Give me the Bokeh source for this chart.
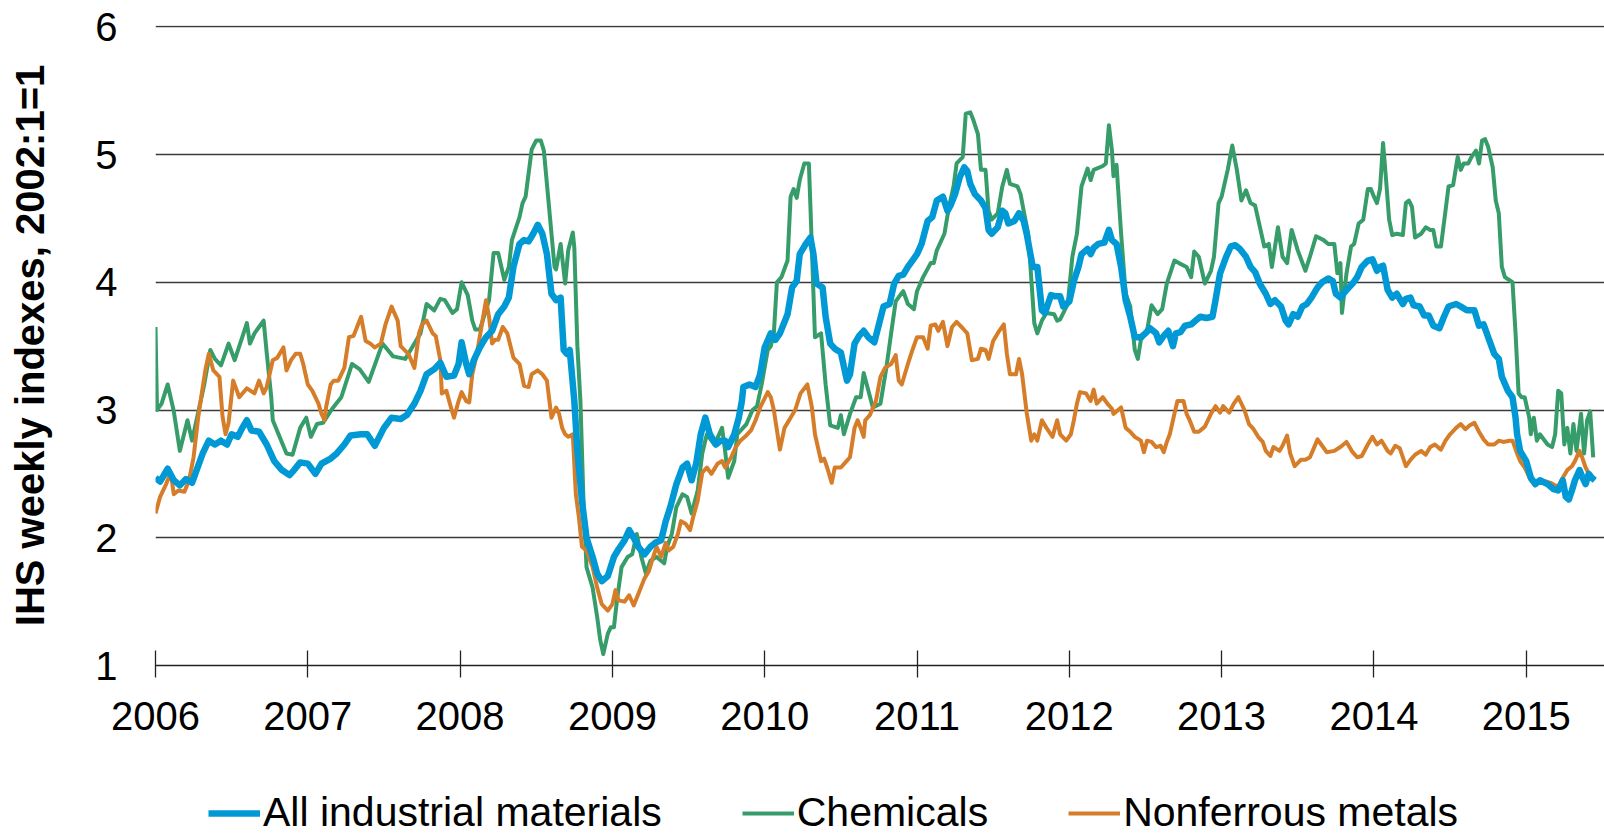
from bokeh.plotting import figure
from bokeh.layouts import column
from bokeh.models import Legend, LegendItem, FixedTicker, Range1d
from bokeh.embed import file_html
from bokeh.resources import INLINE

FONT = "Liberation Sans"

year_ticks = [2006, 2007, 2008, 2009, 2010, 2011, 2012, 2013, 2014, 2015]
year_labels = ["2006", "2007", "2008", "2009", "2010", "2011", "2012", "2013", "2014", "2015"]
y_ticks = [1, 2, 3, 4, 5, 6]
series_names = ["All industrial materials", "Chemicals", "Nonferrous metals"]
series_colors = ["#0099D5", "#369C69", "#D67D29"]

chem_x = [2006.00, 2006.01, 2006.04, 2006.08, 2006.12, 2006.16, 2006.21, 2006.24, 2006.28, 2006.32, 2006.36, 2006.39, 2006.43, 2006.48, 2006.52, 2006.60, 2006.62, 2006.65, 2006.71, 2006.73, 2006.76, 2006.77, 2006.86, 2006.90, 2006.95, 2006.99, 2007.02, 2007.06, 2007.10, 2007.16, 2007.22, 2007.29, 2007.34, 2007.40, 2007.49, 2007.56, 2007.64, 2007.70, 2007.74, 2007.78, 2007.83, 2007.87, 2007.90, 2007.95, 2007.98, 2008.01, 2008.05, 2008.08, 2008.10, 2008.13, 2008.19, 2008.22, 2008.25, 2008.29, 2008.32, 2008.34, 2008.39, 2008.41, 2008.43, 2008.47, 2008.50, 2008.53, 2008.55, 2008.58, 2008.62, 2008.63, 2008.66, 2008.69, 2008.71, 2008.74, 2008.75, 2008.77, 2008.79, 2008.81, 2008.83, 2008.87, 2008.90, 2008.92, 2008.94, 2008.97, 2008.99, 2009.01, 2009.03, 2009.06, 2009.10, 2009.13, 2009.16, 2009.19, 2009.22, 2009.25, 2009.29, 2009.34, 2009.36, 2009.39, 2009.42, 2009.46, 2009.49, 2009.52, 2009.56, 2009.59, 2009.62, 2009.67, 2009.72, 2009.74, 2009.76, 2009.80, 2009.82, 2009.88, 2009.92, 2009.95, 2009.98, 2010.02, 2010.04, 2010.06, 2010.08, 2010.11, 2010.15, 2010.17, 2010.19, 2010.21, 2010.23, 2010.26, 2010.29, 2010.30, 2010.33, 2010.37, 2010.40, 2010.43, 2010.48, 2010.50, 2010.52, 2010.56, 2010.60, 2010.63, 2010.65, 2010.67, 2010.71, 2010.76, 2010.80, 2010.83, 2010.86, 2010.89, 2010.91, 2010.94, 2010.98, 2011.00, 2011.04, 2011.09, 2011.11, 2011.13, 2011.18, 2011.21, 2011.24, 2011.26, 2011.30, 2011.32, 2011.35, 2011.37, 2011.40, 2011.42, 2011.45, 2011.47, 2011.49, 2011.53, 2011.56, 2011.59, 2011.61, 2011.66, 2011.68, 2011.70, 2011.73, 2011.76, 2011.77, 2011.79, 2011.82, 2011.85, 2011.90, 2011.92, 2011.94, 2011.99, 2012.02, 2012.05, 2012.08, 2012.12, 2012.14, 2012.16, 2012.22, 2012.24, 2012.26, 2012.28, 2012.29, 2012.31, 2012.34, 2012.37, 2012.40, 2012.43, 2012.45, 2012.47, 2012.51, 2012.54, 2012.58, 2012.61, 2012.64, 2012.69, 2012.72, 2012.77, 2012.80, 2012.82, 2012.85, 2012.89, 2012.93, 2012.95, 2012.98, 2013.00, 2013.04, 2013.07, 2013.10, 2013.13, 2013.16, 2013.19, 2013.22, 2013.28, 2013.31, 2013.33, 2013.37, 2013.40, 2013.43, 2013.46, 2013.50, 2013.55, 2013.58, 2013.62, 2013.67, 2013.70, 2013.74, 2013.76, 2013.78, 2013.79, 2013.82, 2013.85, 2013.87, 2013.90, 2013.93, 2013.96, 2013.98, 2014.00, 2014.02, 2014.04, 2014.06, 2014.08, 2014.10, 2014.12, 2014.15, 2014.19, 2014.21, 2014.23, 2014.25, 2014.27, 2014.31, 2014.34, 2014.37, 2014.39, 2014.41, 2014.44, 2014.47, 2014.49, 2014.52, 2014.55, 2014.57, 2014.59, 2014.62, 2014.64, 2014.67, 2014.69, 2014.71, 2014.73, 2014.75, 2014.78, 2014.80, 2014.82, 2014.84, 2014.86, 2014.91, 2014.93, 2014.95, 2014.97, 2014.99, 2015.02, 2015.03, 2015.05, 2015.07, 2015.09, 2015.14, 2015.17, 2015.19, 2015.21, 2015.23, 2015.25, 2015.27, 2015.29, 2015.31, 2015.33, 2015.36, 2015.38, 2015.40, 2015.42, 2015.44]
chem_y = [3.65, 3.00, 3.05, 3.20, 2.99, 2.68, 2.92, 2.76, 2.98, 3.20, 3.47, 3.40, 3.35, 3.52, 3.39, 3.68, 3.52, 3.60, 3.70, 3.45, 3.10, 2.92, 2.66, 2.65, 2.86, 2.94, 2.79, 2.89, 2.90, 3.01, 3.10, 3.36, 3.32, 3.22, 3.52, 3.42, 3.40, 3.52, 3.60, 3.83, 3.78, 3.87, 3.86, 3.76, 3.79, 4.00, 3.90, 3.70, 3.63, 3.63, 3.86, 4.23, 4.23, 4.02, 4.12, 4.33, 4.51, 4.62, 4.67, 5.04, 5.11, 5.11, 5.03, 4.64, 4.12, 4.10, 4.30, 3.99, 4.25, 4.39, 4.27, 3.50, 3.07, 2.29, 1.77, 1.61, 1.38, 1.20, 1.09, 1.25, 1.30, 1.30, 1.51, 1.77, 1.85, 1.87, 2.03, 1.85, 1.72, 1.82, 1.85, 1.80, 1.93, 2.03, 2.24, 2.34, 2.32, 2.19, 2.37, 2.66, 2.81, 2.73, 2.86, 2.68, 2.47, 2.60, 2.81, 2.89, 3.00, 3.03, 3.20, 3.47, 3.50, 3.60, 4.00, 4.04, 4.17, 4.67, 4.73, 4.66, 4.80, 4.93, 4.93, 4.60, 3.57, 3.60, 3.20, 2.88, 2.86, 2.96, 2.81, 2.97, 3.10, 3.10, 3.29, 3.20, 3.02, 3.05, 3.34, 3.60, 3.85, 3.90, 3.93, 3.83, 3.79, 3.93, 4.04, 4.15, 4.15, 4.25, 4.38, 4.59, 4.75, 4.93, 4.98, 5.32, 5.33, 5.27, 5.16, 4.88, 4.88, 4.56, 4.49, 4.54, 4.75, 4.88, 4.77, 4.75, 4.69, 4.56, 4.38, 3.86, 3.68, 3.60, 3.70, 3.76, 3.75, 3.70, 3.71, 3.83, 4.20, 4.38, 4.75, 4.89, 4.80, 4.88, 4.91, 4.93, 5.23, 5.03, 4.83, 4.92, 4.38, 3.91, 3.81, 3.47, 3.40, 3.55, 3.62, 3.82, 3.75, 3.79, 3.99, 4.17, 4.15, 4.12, 4.04, 4.24, 4.20, 3.99, 4.09, 4.20, 4.62, 4.67, 4.88, 5.07, 4.88, 4.64, 4.72, 4.62, 4.60, 4.28, 4.30, 4.12, 4.43, 4.20, 4.15, 4.41, 4.25, 4.09, 4.20, 4.36, 4.33, 4.30, 4.30, 4.07, 4.15, 3.76, 4.07, 4.28, 4.30, 4.46, 4.49, 4.73, 4.73, 4.67, 4.62, 4.73, 5.09, 4.80, 4.49, 4.37, 4.38, 4.37, 4.62, 4.64, 4.59, 4.35, 4.38, 4.43, 4.41, 4.41, 4.28, 4.28, 4.56, 4.75, 4.76, 4.98, 4.88, 4.93, 4.93, 4.98, 5.03, 4.93, 5.11, 5.12, 5.06, 4.90, 4.64, 4.54, 4.12, 4.04, 4.00, 3.60, 3.13, 3.10, 3.10, 2.94, 2.81, 2.94, 2.76, 2.81, 2.73, 2.71, 2.81, 3.15, 3.13, 2.73, 2.86, 2.66, 2.89, 2.68, 2.97, 2.66, 2.92, 2.99, 2.63]

all_x = [2006.00, 2006.03, 2006.08, 2006.12, 2006.16, 2006.20, 2006.24, 2006.27, 2006.31, 2006.35, 2006.39, 2006.43, 2006.47, 2006.50, 2006.54, 2006.57, 2006.60, 2006.63, 2006.68, 2006.73, 2006.78, 2006.83, 2006.88, 2006.91, 2006.95, 2007.00, 2007.05, 2007.09, 2007.15, 2007.19, 2007.24, 2007.28, 2007.35, 2007.39, 2007.44, 2007.50, 2007.55, 2007.61, 2007.65, 2007.70, 2007.74, 2007.78, 2007.83, 2007.87, 2007.91, 2007.96, 2007.99, 2008.01, 2008.04, 2008.06, 2008.09, 2008.13, 2008.17, 2008.21, 2008.25, 2008.29, 2008.32, 2008.35, 2008.39, 2008.42, 2008.45, 2008.48, 2008.51, 2008.54, 2008.57, 2008.60, 2008.63, 2008.66, 2008.68, 2008.70, 2008.72, 2008.75, 2008.77, 2008.80, 2008.83, 2008.87, 2008.90, 2008.93, 2008.97, 2009.01, 2009.04, 2009.08, 2009.11, 2009.14, 2009.17, 2009.21, 2009.25, 2009.28, 2009.32, 2009.35, 2009.38, 2009.42, 2009.46, 2009.49, 2009.52, 2009.55, 2009.58, 2009.61, 2009.64, 2009.68, 2009.71, 2009.74, 2009.76, 2009.80, 2009.83, 2009.85, 2009.86, 2009.90, 2009.94, 2009.97, 2010.00, 2010.04, 2010.07, 2010.10, 2010.15, 2010.18, 2010.21, 2010.23, 2010.27, 2010.30, 2010.32, 2010.34, 2010.38, 2010.40, 2010.43, 2010.46, 2010.50, 2010.52, 2010.54, 2010.56, 2010.59, 2010.62, 2010.65, 2010.68, 2010.72, 2010.75, 2010.78, 2010.82, 2010.85, 2010.88, 2010.91, 2010.94, 2010.97, 2011.00, 2011.03, 2011.07, 2011.10, 2011.13, 2011.17, 2011.20, 2011.22, 2011.25, 2011.28, 2011.31, 2011.33, 2011.35, 2011.38, 2011.42, 2011.45, 2011.47, 2011.49, 2011.53, 2011.56, 2011.58, 2011.60, 2011.64, 2011.67, 2011.70, 2011.72, 2011.76, 2011.79, 2011.82, 2011.84, 2011.88, 2011.91, 2011.94, 2011.96, 2012.00, 2012.03, 2012.06, 2012.08, 2012.12, 2012.14, 2012.16, 2012.19, 2012.23, 2012.26, 2012.28, 2012.31, 2012.34, 2012.37, 2012.40, 2012.43, 2012.47, 2012.50, 2012.53, 2012.57, 2012.59, 2012.62, 2012.65, 2012.68, 2012.70, 2012.73, 2012.76, 2012.80, 2012.83, 2012.86, 2012.90, 2012.94, 2012.96, 2012.99, 2013.03, 2013.06, 2013.09, 2013.12, 2013.16, 2013.19, 2013.22, 2013.25, 2013.29, 2013.32, 2013.35, 2013.39, 2013.42, 2013.44, 2013.47, 2013.50, 2013.53, 2013.56, 2013.59, 2013.63, 2013.66, 2013.70, 2013.73, 2013.75, 2013.78, 2013.82, 2013.86, 2013.89, 2013.92, 2013.96, 2013.99, 2014.02, 2014.04, 2014.06, 2014.09, 2014.12, 2014.15, 2014.19, 2014.21, 2014.24, 2014.26, 2014.30, 2014.33, 2014.36, 2014.39, 2014.43, 2014.46, 2014.49, 2014.54, 2014.57, 2014.61, 2014.66, 2014.69, 2014.72, 2014.75, 2014.79, 2014.82, 2014.84, 2014.88, 2014.91, 2014.93, 2014.94, 2014.96, 2015.00, 2015.03, 2015.06, 2015.09, 2015.14, 2015.18, 2015.21, 2015.24, 2015.26, 2015.28, 2015.30, 2015.32, 2015.35, 2015.37, 2015.39, 2015.41, 2015.43, 2015.45]
all_y = [2.47, 2.44, 2.54, 2.45, 2.41, 2.46, 2.43, 2.53, 2.66, 2.76, 2.73, 2.76, 2.73, 2.81, 2.79, 2.86, 2.92, 2.84, 2.83, 2.73, 2.60, 2.53, 2.49, 2.53, 2.59, 2.58, 2.50, 2.58, 2.62, 2.66, 2.73, 2.80, 2.81, 2.81, 2.72, 2.86, 2.94, 2.93, 2.96, 3.05, 3.15, 3.28, 3.32, 3.37, 3.26, 3.27, 3.36, 3.53, 3.36, 3.28, 3.39, 3.49, 3.57, 3.62, 3.75, 3.81, 3.88, 4.12, 4.30, 4.33, 4.32, 4.38, 4.45, 4.38, 4.22, 3.91, 3.86, 3.88, 3.47, 3.44, 3.47, 3.07, 2.68, 2.29, 2.00, 1.85, 1.72, 1.66, 1.70, 1.85, 1.91, 1.98, 2.06, 2.00, 1.93, 1.87, 1.93, 1.96, 1.98, 2.13, 2.24, 2.42, 2.55, 2.58, 2.45, 2.58, 2.81, 2.94, 2.81, 2.73, 2.76, 2.76, 2.71, 2.81, 2.94, 3.07, 3.18, 3.20, 3.18, 3.28, 3.49, 3.60, 3.55, 3.60, 3.75, 3.96, 4.01, 4.22, 4.30, 4.35, 4.22, 3.99, 3.96, 3.73, 3.52, 3.48, 3.45, 3.34, 3.23, 3.28, 3.52, 3.58, 3.62, 3.57, 3.53, 3.67, 3.81, 3.83, 3.99, 4.05, 4.06, 4.12, 4.17, 4.22, 4.30, 4.48, 4.51, 4.64, 4.67, 4.56, 4.60, 4.69, 4.82, 4.90, 4.87, 4.77, 4.69, 4.64, 4.58, 4.41, 4.38, 4.43, 4.56, 4.54, 4.46, 4.48, 4.54, 4.48, 4.38, 4.12, 4.12, 3.78, 3.76, 3.90, 3.89, 3.89, 3.81, 3.85, 4.01, 4.12, 4.22, 4.26, 4.22, 4.27, 4.30, 4.31, 4.41, 4.33, 4.30, 4.12, 3.86, 3.73, 3.57, 3.57, 3.60, 3.64, 3.60, 3.53, 3.58, 3.62, 3.50, 3.60, 3.61, 3.66, 3.67, 3.70, 3.73, 3.72, 3.73, 3.86, 4.07, 4.20, 4.28, 4.29, 4.26, 4.20, 4.12, 4.08, 3.99, 3.91, 3.83, 3.86, 3.81, 3.70, 3.67, 3.75, 3.73, 3.81, 3.83, 3.88, 3.96, 4.00, 4.03, 4.01, 3.91, 3.88, 3.94, 3.99, 4.04, 4.12, 4.17, 4.18, 4.09, 4.12, 4.13, 3.94, 3.88, 3.91, 3.83, 3.87, 3.88, 3.82, 3.81, 3.74, 3.74, 3.66, 3.64, 3.73, 3.81, 3.83, 3.81, 3.78, 3.78, 3.66, 3.67, 3.57, 3.44, 3.40, 3.26, 3.15, 3.10, 2.94, 2.81, 2.68, 2.60, 2.47, 2.42, 2.45, 2.42, 2.38, 2.37, 2.45, 2.32, 2.30, 2.37, 2.45, 2.53, 2.47, 2.42, 2.50, 2.47, 2.45]

metal_x = [2006.00, 2006.03, 2006.07, 2006.10, 2006.12, 2006.15, 2006.19, 2006.22, 2006.25, 2006.28, 2006.31, 2006.33, 2006.35, 2006.38, 2006.42, 2006.44, 2006.46, 2006.48, 2006.51, 2006.55, 2006.60, 2006.65, 2006.68, 2006.71, 2006.73, 2006.77, 2006.80, 2006.84, 2006.86, 2006.89, 2006.92, 2006.95, 2006.97, 2007.00, 2007.03, 2007.07, 2007.09, 2007.11, 2007.12, 2007.15, 2007.17, 2007.20, 2007.24, 2007.27, 2007.30, 2007.35, 2007.38, 2007.41, 2007.44, 2007.48, 2007.51, 2007.55, 2007.59, 2007.61, 2007.66, 2007.70, 2007.73, 2007.75, 2007.78, 2007.82, 2007.84, 2007.87, 2007.88, 2007.91, 2007.94, 2007.96, 2007.99, 2008.01, 2008.04, 2008.06, 2008.08, 2008.11, 2008.14, 2008.17, 2008.19, 2008.21, 2008.23, 2008.25, 2008.28, 2008.31, 2008.35, 2008.39, 2008.42, 2008.45, 2008.47, 2008.51, 2008.54, 2008.57, 2008.60, 2008.63, 2008.65, 2008.67, 2008.69, 2008.71, 2008.74, 2008.76, 2008.78, 2008.80, 2008.83, 2008.87, 2008.90, 2008.93, 2008.97, 2009.00, 2009.02, 2009.04, 2009.08, 2009.11, 2009.14, 2009.17, 2009.21, 2009.24, 2009.26, 2009.29, 2009.32, 2009.35, 2009.37, 2009.40, 2009.43, 2009.45, 2009.48, 2009.51, 2009.53, 2009.56, 2009.59, 2009.62, 2009.65, 2009.69, 2009.72, 2009.74, 2009.78, 2009.81, 2009.84, 2009.87, 2009.91, 2009.94, 2009.97, 2010.02, 2010.04, 2010.06, 2010.07, 2010.10, 2010.13, 2010.17, 2010.20, 2010.235, 2010.28, 2010.31, 2010.33, 2010.37, 2010.39, 2010.41, 2010.44, 2010.46, 2010.50, 2010.53, 2010.56, 2010.59, 2010.61, 2010.63, 2010.65, 2010.66, 2010.69, 2010.73, 2010.76, 2010.79, 2010.83, 2010.86, 2010.88, 2010.90, 2010.94, 2010.97, 2011.00, 2011.04, 2011.07, 2011.09, 2011.12, 2011.14, 2011.17, 2011.20, 2011.23, 2011.26, 2011.30, 2011.33, 2011.36, 2011.40, 2011.42, 2011.45, 2011.47, 2011.50, 2011.54, 2011.57, 2011.59, 2011.61, 2011.65, 2011.67, 2011.69, 2011.72, 2011.75, 2011.77, 2011.79, 2011.82, 2011.85, 2011.89, 2011.92, 2011.94, 2011.98, 2012.01, 2012.03, 2012.05, 2012.07, 2012.11, 2012.14, 2012.16, 2012.18, 2012.22, 2012.25, 2012.28, 2012.29, 2012.34, 2012.37, 2012.40, 2012.43, 2012.47, 2012.49, 2012.51, 2012.54, 2012.57, 2012.60, 2012.62, 2012.64, 2012.66, 2012.69, 2012.71, 2012.72, 2012.75, 2012.77, 2012.79, 2012.82, 2012.85, 2012.89, 2012.93, 2012.96, 2012.99, 2013.01, 2013.05, 2013.08, 2013.11, 2013.15, 2013.18, 2013.21, 2013.24, 2013.27, 2013.29, 2013.32, 2013.34, 2013.38, 2013.40, 2013.43, 2013.45, 2013.48, 2013.52, 2013.55, 2013.58, 2013.63, 2013.66, 2013.69, 2013.74, 2013.78, 2013.82, 2013.86, 2013.89, 2013.92, 2013.96, 2013.99, 2014.02, 2014.05, 2014.09, 2014.11, 2014.14, 2014.17, 2014.21, 2014.24, 2014.27, 2014.31, 2014.34, 2014.37, 2014.40, 2014.44, 2014.47, 2014.50, 2014.54, 2014.57, 2014.60, 2014.63, 2014.66, 2014.69, 2014.72, 2014.75, 2014.79, 2014.82, 2014.85, 2014.89, 2014.91, 2014.94, 2014.96, 2014.99, 2015.03, 2015.06, 2015.09, 2015.13, 2015.16, 2015.19, 2015.21, 2015.24, 2015.27, 2015.30, 2015.32, 2015.35, 2015.37, 2015.39, 2015.42, 2015.45]
metal_y = [2.19, 2.32, 2.42, 2.51, 2.34, 2.37, 2.36, 2.45, 2.63, 2.94, 3.18, 3.33, 3.44, 3.31, 3.26, 2.95, 2.81, 2.90, 3.23, 3.10, 3.17, 3.13, 3.23, 3.13, 3.18, 3.39, 3.41, 3.49, 3.31, 3.39, 3.44, 3.44, 3.36, 3.20, 3.15, 3.05, 2.97, 2.92, 3.02, 3.20, 3.23, 3.23, 3.33, 3.57, 3.58, 3.73, 3.54, 3.52, 3.49, 3.52, 3.67, 3.81, 3.70, 3.50, 3.44, 3.33, 3.60, 3.67, 3.70, 3.60, 3.58, 3.39, 3.13, 3.15, 3.02, 2.94, 3.07, 3.14, 3.07, 3.06, 3.28, 3.44, 3.65, 3.86, 3.73, 3.52, 3.55, 3.55, 3.65, 3.60, 3.41, 3.36, 3.19, 3.18, 3.28, 3.31, 3.28, 3.23, 2.94, 3.02, 2.97, 2.86, 2.81, 2.79, 2.81, 2.34, 2.16, 1.93, 1.90, 1.77, 1.61, 1.48, 1.43, 1.48, 1.59, 1.51, 1.50, 1.55, 1.47, 1.56, 1.68, 1.74, 1.82, 1.93, 1.85, 1.96, 1.90, 1.93, 2.03, 2.13, 2.11, 2.06, 2.16, 2.29, 2.51, 2.55, 2.50, 2.58, 2.60, 2.55, 2.63, 2.71, 2.76, 2.79, 2.84, 2.92, 3.02, 3.14, 3.10, 3.00, 2.92, 2.69, 2.86, 2.94, 3.00, 3.13, 3.20, 3.02, 2.81, 2.60, 2.62, 2.55, 2.43, 2.55, 2.55, 2.59, 2.63, 2.86, 2.92, 2.86, 2.79, 2.92, 2.96, 3.07, 3.26, 3.33, 3.36, 3.43, 3.23, 3.20, 3.36, 3.47, 3.57, 3.57, 3.48, 3.66, 3.67, 3.62, 3.69, 3.50, 3.65, 3.69, 3.64, 3.60, 3.39, 3.40, 3.48, 3.47, 3.40, 3.54, 3.62, 3.67, 3.44, 3.28, 3.28, 3.40, 3.28, 2.98, 2.76, 2.81, 2.76, 2.92, 2.86, 2.79, 2.92, 2.81, 2.76, 2.81, 2.92, 3.05, 3.14, 3.13, 3.07, 3.16, 3.05, 3.10, 3.05, 3.01, 2.97, 3.02, 2.86, 2.83, 2.79, 2.76, 2.67, 2.76, 2.75, 2.71, 2.72, 2.67, 2.75, 2.81, 2.97, 3.07, 3.07, 3.07, 2.97, 2.92, 2.83, 2.83, 2.87, 2.97, 3.03, 2.98, 3.03, 2.98, 3.05, 3.10, 3.00, 2.89, 2.85, 2.79, 2.75, 2.68, 2.64, 2.71, 2.68, 2.72, 2.80, 2.66, 2.56, 2.61, 2.61, 2.63, 2.77, 2.72, 2.67, 2.68, 2.71, 2.75, 2.67, 2.63, 2.64, 2.73, 2.79, 2.73, 2.76, 2.68, 2.66, 2.72, 2.70, 2.56, 2.61, 2.65, 2.68, 2.65, 2.71, 2.73, 2.69, 2.76, 2.81, 2.86, 2.89, 2.85, 2.88, 2.90, 2.83, 2.77, 2.73, 2.73, 2.76, 2.75, 2.76, 2.76, 2.66, 2.60, 2.55, 2.45, 2.41, 2.45, 2.44, 2.43, 2.41, 2.40, 2.47, 2.53, 2.56, 2.60, 2.68, 2.62, 2.55, 2.48, 2.45]

W = 1604
x_rng = Range1d(2006, 2015.514)
p = figure(width=W, height=760, output_backend="svg", toolbar_location=None,
           x_range=x_rng, y_range=Range1d(1, 6.01),
           min_border_left=155, min_border_right=0, min_border_top=25,
           min_border_bottom=95)
p.outline_line_color = None
p.background_fill_color = "white"
p.border_fill_color = "white"

r_chem = p.line(chem_x, chem_y, line_color=series_colors[1], line_width=4, line_join="round")
r_metal = p.line(metal_x, metal_y, line_color=series_colors[2], line_width=4, line_join="round")
r_all = p.line(all_x, all_y, line_color=series_colors[0], line_width=6.5, line_join="round")

p.xgrid.grid_line_color = None
p.ygrid.ticker = FixedTicker(ticks=y_ticks)
p.ygrid.grid_line_color = "#3a3a3a"
p.ygrid.grid_line_width = 1.3

xa = p.xaxis[0]
xa.ticker = FixedTicker(ticks=year_ticks)
xa.major_label_overrides = {t: l for t, l in zip(year_ticks, year_labels)}
xa.axis_line_color = "#222222"
xa.axis_line_width = 1.3
xa.major_tick_line_color = "#222222"
xa.major_tick_line_width = 1.3
xa.major_tick_in = 15
xa.major_tick_out = 12
xa.minor_tick_line_color = None
xa.major_label_text_font = FONT
xa.major_label_text_font_size = "40px"
xa.major_label_text_color = "black"
xa.major_label_standoff = 24

ya = p.yaxis[0]
ya.ticker = FixedTicker(ticks=y_ticks)
ya.axis_line_color = None
ya.major_tick_line_color = None
ya.minor_tick_line_color = None
ya.major_tick_in = 0
ya.major_tick_out = 0
ya.major_label_text_font = FONT
ya.major_label_text_font_size = "40px"
ya.major_label_text_color = "black"
ya.major_label_standoff = 38
ya.axis_label = "IHS weekly indexes, 2002:1=1"
ya.axis_label_text_font = FONT
ya.axis_label_text_font_size = "40px"
ya.axis_label_text_font_style = "bold"
ya.axis_label_text_color = "black"
ya.axis_label_standoff = 40

# legend strip below the chart (series drawn again, but outside its visible y range)
lg = figure(width=W, height=76, output_backend="svg", toolbar_location=None,
            x_range=x_rng, y_range=Range1d(100, 101),
            min_border_left=155, min_border_right=0, min_border_top=0, min_border_bottom=0)
lg.outline_line_color = None
lg.axis.visible = False
lg.grid.visible = False
l_all = lg.line(all_x, all_y, line_color=series_colors[0], line_width=6.5)
l_chem = lg.line(chem_x, chem_y, line_color=series_colors[1], line_width=4)
l_metal = lg.line(metal_x, metal_y, line_color=series_colors[2], line_width=4)

legend = Legend(items=[LegendItem(label=series_names[0], renderers=[l_all]),
                       LegendItem(label=series_names[1], renderers=[l_chem]),
                       LegendItem(label=series_names[2], renderers=[l_metal])],
                orientation="horizontal", location=(53, 0))
legend.label_text_font = FONT
legend.label_text_font_size = "41px"
legend.label_text_color = "black"
legend.glyph_width = 52
legend.glyph_height = 20
legend.label_standoff = 3
legend.spacing = 80
legend.padding = 0
legend.margin = 0
legend.border_line_color = None
legend.background_fill_alpha = 0
lg.add_layout(legend, "center")

layout = column(p, lg, spacing=0)
open("out.html", "w").write(file_html(layout, INLINE))
